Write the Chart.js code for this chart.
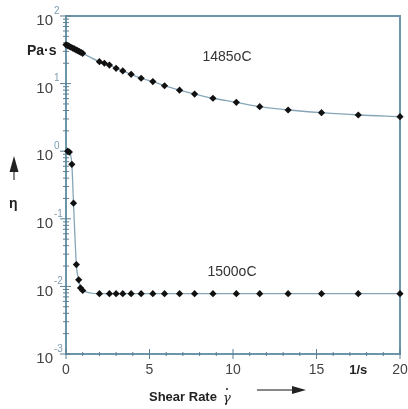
<!DOCTYPE html>
<html>
<head>
<meta charset="utf-8">
<script src="https://cdn.jsdelivr.net/npm/chart.js@4/dist/chart.umd.min.js"></script>
<style>
  html, body { margin: 0; padding: 0; background: #fff; }
  #wrap { width: 408px; height: 409px; }
</style>
</head>
<body>
<div id="wrap"><canvas id="chart"></canvas></div>
<script>
// 1485 oC curve
const shear1485 = [0, 0.1, 0.2, 0.3, 0.4, 0.5, 0.6, 0.7, 0.8, 0.9, 1.0, 2.0, 2.3, 2.6, 3.0, 3.4, 3.9, 4.5, 5.2, 5.9, 6.8, 7.7, 8.8, 10.2, 11.6, 13.3, 15.3, 17.5, 20.0];
const eta1485 = [37.5, 36.5, 35.5, 34.5, 33.5, 32.6, 31.6, 30.7, 29.8, 28.9, 28.0, 21.1, 20.0, 18.8, 16.8, 15.4, 13.7, 12.0, 10.7, 9.3, 8.0, 7.0, 6.07, 5.29, 4.55, 4.07, 3.71, 3.43, 3.24];
// 1500 oC curve
const shear1500 = [0.1, 0.2, 0.35, 0.45, 0.62, 0.76, 0.87, 1.0, 2.0, 2.6, 3.0, 3.4, 3.9, 4.5, 5.2, 5.9, 6.8, 7.7, 8.8, 10.2, 11.6, 13.3, 15.3, 17.5, 20.0];
const eta1500 = [1.0, 0.97, 0.64, 0.17, 0.021, 0.0125, 0.0095, 0.0087, 0.0078, 0.0078, 0.0078, 0.0078, 0.0078, 0.0078, 0.0078, 0.0078, 0.0078, 0.0078, 0.0078, 0.0078, 0.0078, 0.0078, 0.0078, 0.0078, 0.0078];

const xTicks = [0, 5, 10, 15, 20];
const xTickLabels = ['0', '5', '10', '15', '20'];
const yExponents = [2, 1, 0, -1, -2, -3];

const pts = (xs, ys) => xs.map((x, i) => ({ x: x, y: ys[i] }));

const frameColor = '#6d96ab';

const axesPlugin = {
  id: 'axesPlugin',
  beforeDatasetsDraw(chart) {
    const ctx = chart.ctx;
    const a = chart.chartArea;
    const xs = chart.scales.x, ys = chart.scales.y;
    ctx.save();
    ctx.strokeStyle = frameColor;
    ctx.lineWidth = 2;
    ctx.strokeRect(a.left, a.top, a.right - a.left, a.bottom - a.top);
    ctx.lineWidth = 1;
    ctx.strokeStyle = '#5c7f92';
    // y ticks
    for (let e = -3; e <= 2; e++) {
      const py = ys.getPixelForValue(Math.pow(10, e));
      ctx.beginPath(); ctx.moveTo(a.left - 6, py); ctx.lineTo(a.left + 5, py); ctx.stroke();
      if (e < 2) {
        for (let m = 2; m <= 9; m++) {
          const my = ys.getPixelForValue(m * Math.pow(10, e));
          ctx.beginPath(); ctx.moveTo(a.left - 3, my); ctx.lineTo(a.left + 3, my); ctx.stroke();
        }
      }
    }
    // x ticks
    for (let v = 0; v <= 20; v++) {
      const px = xs.getPixelForValue(v);
      const big = v % 5 === 0;
      ctx.beginPath();
      ctx.moveTo(px, a.bottom - (big ? 5 : 2));
      ctx.lineTo(px, a.bottom + (big ? 5 : 2));
      ctx.stroke();
    }
    ctx.restore();
  },
  afterDraw(chart) {
    const ctx = chart.ctx;
    const a = chart.chartArea;
    const xs = chart.scales.x, ys = chart.scales.y;
    ctx.save();
    // y labels 10^n
    yExponents.forEach(e => {
      const py = ys.getPixelForValue(Math.pow(10, e));
      ctx.font = '15px Arial, "Liberation Sans", sans-serif';
      ctx.fillStyle = '#444';
      ctx.textAlign = 'right';
      ctx.textBaseline = 'middle';
      ctx.fillText('10', a.left - 13, py + 5);
      ctx.font = '10px Arial, "Liberation Sans", sans-serif';
      ctx.fillStyle = '#7d9db3';
      ctx.textAlign = 'left';
      ctx.fillText(String(e), a.left - 12, py - 5);
    });
    // x labels
    ctx.font = '14px Arial, "Liberation Sans", sans-serif';
    ctx.fillStyle = '#444';
    ctx.textAlign = 'center';
    ctx.textBaseline = 'middle';
    xTicks.forEach((v, i) => {
      ctx.fillText(xTickLabels[i], xs.getPixelForValue(v), a.bottom + 16);
    });
    ctx.font = 'bold 13px Arial, "Liberation Sans", sans-serif';
    ctx.fillStyle = '#222';
    ctx.fillText('1/s', xs.getPixelForValue(17.5), a.bottom + 16);
    // axis titles
    ctx.textAlign = 'left';
    ctx.font = 'bold 13px Arial, "Liberation Sans", sans-serif';
    ctx.fillText('Shear Rate', 149, 397);
    ctx.font = 'italic 13px "DejaVu Serif", serif';
    ctx.fillText('γ', 223, 399);
    ctx.beginPath(); ctx.arc(227, 389, 1, 0, Math.PI * 2); ctx.fill();
    ctx.font = 'bold 14px Arial, "Liberation Sans", sans-serif';
    ctx.fillText('Pa·s', 27, 51);
    ctx.fillText('η', 9, 204);
    // arrows
    ctx.strokeStyle = '#111';
    ctx.lineWidth = 1;
    ctx.beginPath(); ctx.moveTo(257, 390); ctx.lineTo(296, 390); ctx.stroke();
    ctx.beginPath(); ctx.moveTo(306, 390); ctx.lineTo(292, 386); ctx.lineTo(292, 394); ctx.closePath(); ctx.fill();
    ctx.beginPath(); ctx.moveTo(14, 180); ctx.lineTo(14, 166); ctx.stroke();
    ctx.beginPath(); ctx.moveTo(14, 156); ctx.lineTo(9.5, 172); ctx.lineTo(18.5, 172); ctx.closePath(); ctx.fill();
    // series labels
    ctx.font = '14px Arial, "Liberation Sans", sans-serif';
    ctx.fillStyle = '#333';
    ctx.textAlign = 'center';
    ctx.fillText('1485oC', 227, 57);
    ctx.fillText('1500oC', 232, 272);
    ctx.restore();
  }
};

const lineStyle = {
  showLine: true,
  borderColor: '#86a6b8',
  borderWidth: 1.3,
  pointStyle: 'rectRot',
  pointRadius: 3.6,
  pointBackgroundColor: '#111',
  pointBorderColor: '#111',
  pointBorderWidth: 0,
  cubicInterpolationMode: 'monotone',
  clip: false
};

new Chart(document.getElementById('chart'), {
  type: 'scatter',
  data: {
    datasets: [
      Object.assign({ label: '1485oC', data: pts(shear1485, eta1485) }, lineStyle),
      Object.assign({ label: '1500oC', data: pts(shear1500, eta1500) }, lineStyle)
    ]
  },
  options: {
    responsive: true,
    maintainAspectRatio: false,
    animation: false,
    layout: { padding: { left: 66, right: 8, top: 16, bottom: 55 } },
    plugins: { legend: { display: false }, tooltip: { enabled: false } },
    scales: {
      x: { type: 'linear', min: 0, max: 20, display: false },
      y: { type: 'logarithmic', min: 0.001, max: 100, display: false }
    }
  },
  plugins: [axesPlugin]
});
</script>
</body>
</html>
